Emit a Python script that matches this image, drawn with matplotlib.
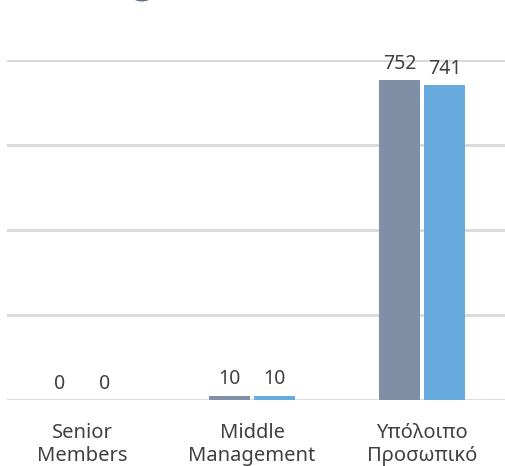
import matplotlib
matplotlib.use("Agg")
import matplotlib.pyplot as plt
from matplotlib.patches import Circle
import numpy as np

categories = ["Senior\nMembers", "Middle\nManagement", "Υπόλοιπο\nΠροσωπικό"]
series_a = [0, 10, 752]
series_b = [0, 10, 741]
y_ticks = [0, 200, 400, 600, 800]

plt.rcParams['font.family'] = ['Noto Sans', 'DejaVu Sans']

W, H = 505, 466
fig = plt.figure(figsize=(W / 100, H / 100), dpi=100)
ax = fig.add_axes([7 / W, 1 - 400 / H, 498 / W, 340 / H])

x = np.arange(len(categories))
bw = 0.241
off = 0.132
ax.bar(x - off, series_a, bw, color="#7F8FA6", zorder=3)
ax.bar(x + off, series_b, bw, color="#66AADE", zorder=3)

for xi, a, b in zip(x, series_a, series_b):
    for xx, v in ((xi - off, a), (xi + off, b)):
        ax.annotate(str(v), (xx, v), xytext=(0, 4.5), textcoords="offset points",
                    ha="center", va="bottom", fontsize=14, color="#404040")

ax.set_xlim(-0.441, 2.488)
ax.set_ylim(0, 800)
ax.set_yticks(y_ticks)
ax.yaxis.grid(True, color="#D9D9D9", linewidth=2, zorder=0)
ax.tick_params(axis="y", left=False, labelleft=False)
ax.tick_params(axis="x", bottom=False, pad=13, labelsize=14.5, labelcolor="#404040")
ax.set_xticks(x)
ax.set_xticklabels(categories, linespacing=1.22)
for s in ax.spines.values():
    s.set_visible(False)

# bit of a legend marker cut off at the top edge
fig.patches.append(Circle((142 / W, 1 + 14 / H), 16 / W, transform=fig.transFigure,
                          color="#5A6D8E", clip_on=False))

fig.savefig("out.png", dpi=100)
